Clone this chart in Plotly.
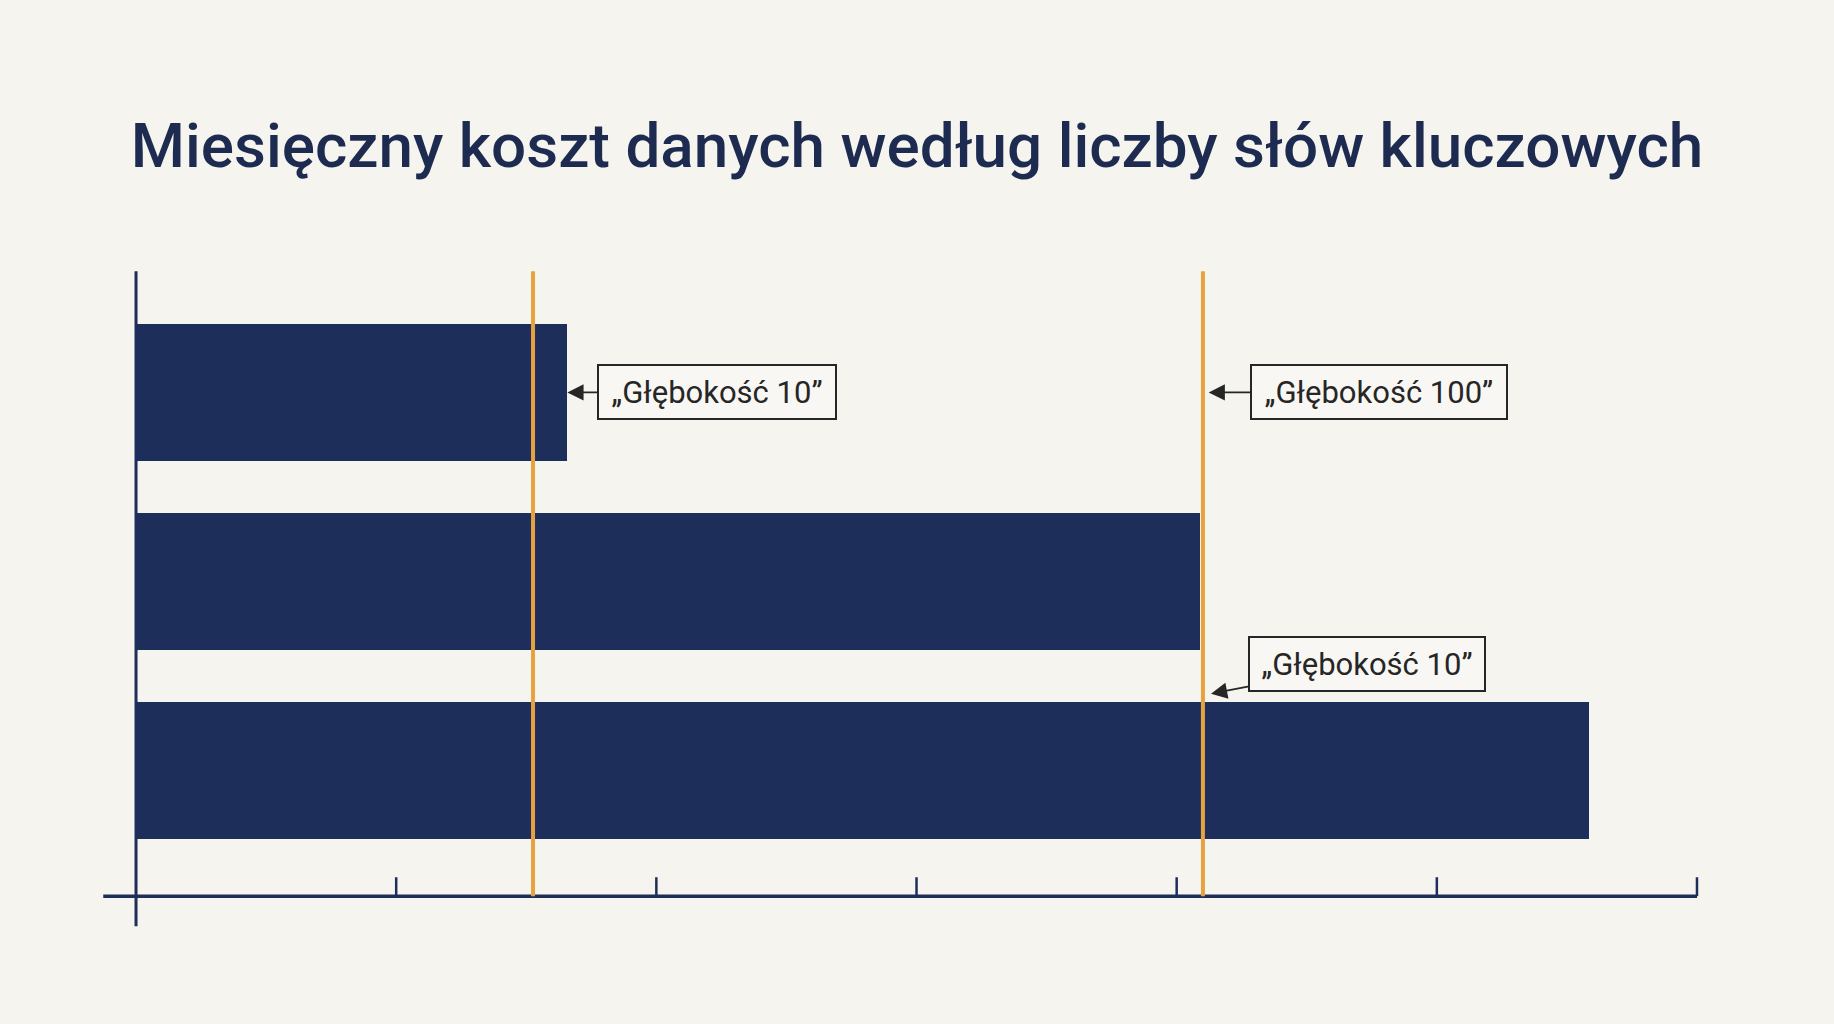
import plotly.graph_objects as go

# Values (x in tick units, bars from top to bottom)
bar_positions = [2, 1, 0]
bar_values = [1.658, 4.09, 5.585]
marker_lines = [1.526, 4.101]
tick_values = [1, 2, 3, 4, 5, 6]

# Callouts: text, arrow tip (x, y) and box offset in pixels
callout_texts = ["„Głębokość 10”", "„Głębokość 100”", "„Głębokość 10”"]
callout_x = [1.658, 4.123, 4.132]
callout_y = [2, 2, 0.407]
callout_ax = [150, 170, 156]
callout_ay = [0, 0, -30]
callout_w = [226, 244, 224]

NAVY = "#1e2e5b"
ORANGE = "#e6a23e"
BG = "#f5f4ef"
INK = "#262626"

x_min, x_max = -0.2, 6.1
y_min, y_max = -0.9, 2.7
axis_y = -0.663
axis_top = 2.64
axis_x_left = -0.126
axis_y_bottom = -0.822
tick_len = 0.1

fig = go.Figure()
fig.add_trace(go.Bar(
    x=bar_values, y=bar_positions, orientation="h", width=0.723,
    marker=dict(color=NAVY, line=dict(width=0)),
    hoverinfo="skip", showlegend=False,
))

shapes = []
# axes
shapes.append(dict(type="line", x0=axis_x_left, x1=6.0, y0=axis_y, y1=axis_y,
                   xref="x", yref="y", line=dict(color=NAVY, width=3.5)))
shapes.append(dict(type="line", x0=0, x1=0, y0=axis_y_bottom, y1=axis_top,
                   xref="x", yref="y", line=dict(color=NAVY, width=3)))
for t in tick_values:
    shapes.append(dict(type="line", x0=t, x1=t, y0=axis_y, y1=axis_y + tick_len,
                       xref="x", yref="y", line=dict(color=NAVY, width=2.5)))
# orange markers
for m in marker_lines:
    shapes.append(dict(type="line", x0=m, x1=m, y0=axis_y, y1=axis_top,
                       xref="x", yref="y", layer="above",
                       line=dict(color=ORANGE, width=4)))

annotations = []
for txt, x, y, ax, ay, w in zip(callout_texts, callout_x, callout_y,
                                callout_ax, callout_ay, callout_w):
    annotations.append(dict(
        text=txt, x=x, y=y, xref="x", yref="y", ax=ax, ay=ay,
        showarrow=True, arrowhead=2, arrowsize=1.8, arrowwidth=1.8,
        arrowcolor=INK, standoff=0,
        font=dict(family="Roboto", size=31, color=INK),
        bgcolor="#f8f7f3", bordercolor=INK, borderwidth=2, borderpad=5,
        width=w, height=42,
    ))

fig.update_layout(
    width=1834, height=1024,
    paper_bgcolor=BG, plot_bgcolor=BG,
    margin=dict(l=84, r=111, t=260, b=83),
    title=dict(text="Miesięczny koszt danych według liczby słów kluczowych",
               x=0.5, xanchor="center", y=0.858, yanchor="middle",
               font=dict(family="Roboto", size=62, weight=500, color="#1e2b50")),
    xaxis=dict(range=[x_min, x_max], visible=False, fixedrange=True),
    yaxis=dict(range=[y_min, y_max], visible=False, fixedrange=True),
    shapes=shapes, annotations=annotations,
    bargap=0,
)

fig.write_html("out.html", config={"displayModeBar": False},
               post_script="document.body.style.margin='0';")
